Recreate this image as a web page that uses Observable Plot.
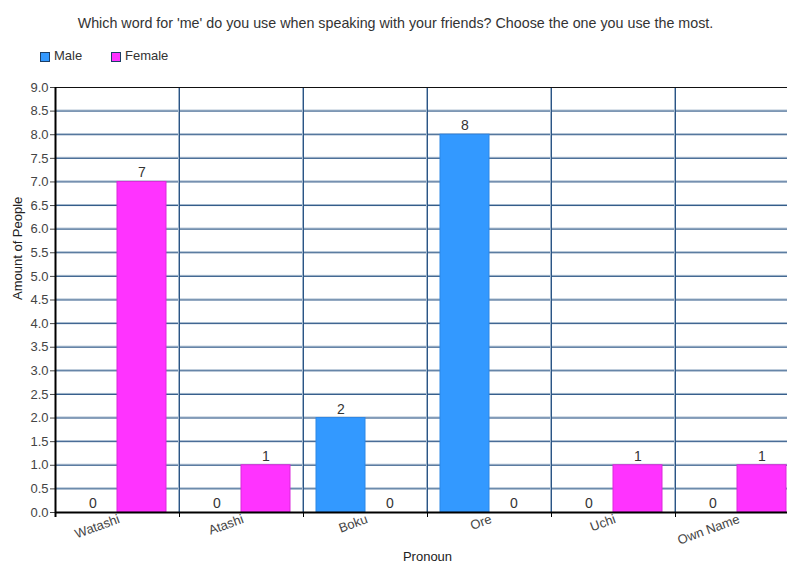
<!DOCTYPE html>
<html>
<head>
<meta charset="utf-8">
<script src="https://cdn.jsdelivr.net/npm/d3@7"></script>
<script src="https://cdn.jsdelivr.net/npm/@observablehq/plot@0.6"></script>
<style>
  html, body { margin: 0; padding: 0; background: #fff; }
  #wrap { position: relative; width: 787px; height: 562px; overflow: hidden; font-family: "Liberation Sans", Arial, sans-serif; color: #444; }
  #title { position: absolute; top: 14px; left: 2px; width: 787px; text-align: center; font-size: 14.3px; line-height: 18px; color: #333; white-space: nowrap; }
  .sw { position: absolute; top: 52px; width: 8px; height: 8px; border: 1px solid #1d3f66; }
  .lt { position: absolute; top: 48px; font-size: 13px; line-height: 16px; color: #333; white-space: nowrap; }
  #chart { position: absolute; top: 70px; left: 0; }
</style>
</head>
<body>
<div id="wrap">
  <div id="title"></div>
  <div id="chart"></div>
</div>
<script>
const titleText = "Which word for 'me' do you use when speaking with your friends? Choose the one you use the most.";
const categories = ["Watashi", "Atashi", "Boku", "Ore", "Uchi", "Own Name"];
const seriesNames = ["Male", "Female"];
const maleValues = [0, 0, 2, 8, 0, 0];
const femaleValues = [7, 1, 0, 0, 1, 1];
const yTicks = [0, 0.5, 1, 1.5, 2, 2.5, 3, 3.5, 4, 4.5, 5, 5.5, 6, 6.5, 7, 7.5, 8, 8.5, 9];
const yLabel = "Amount of People";
const xLabel = "Pronoun";
const colors = ["#3399ff", "#ff33ff"];
const strokes = ["#2d87e6", "#d92ad9"];
const legendX = [40, 111];

document.getElementById("title").textContent = titleText;
const wrap = document.getElementById("wrap");
seriesNames.forEach((n, i) => {
  const sw = document.createElement("div");
  sw.className = "sw";
  sw.style.left = legendX[i] + "px";
  sw.style.background = colors[i];
  wrap.appendChild(sw);
  const t = document.createElement("div");
  t.className = "lt";
  t.style.left = (legendX[i] + 14) + "px";
  t.textContent = n;
  wrap.appendChild(t);
});

const male = categories.map((c, i) => ({category: c, value: maleValues[i]}));
const female = categories.map((c, i) => ({category: c, value: femaleValues[i]}));

const left = 55, right = 799;
const half = (right - left) / categories.length / 2;
const gridTicks = yTicks.filter(d => d > 0 && d < 9);

const chart = Plot.plot({
  width: 787,
  height: 492,
  marginLeft: 55,
  marginRight: 0,
  marginTop: 17,
  marginBottom: 50,
  style: {fontFamily: "Liberation Sans, Arial, sans-serif", fontSize: "13px", color: "#444", background: "#fff", overflow: "visible"},
  x: {type: "band", domain: categories, range: [left, right], padding: 0, axis: null},
  y: {domain: [0, 9], ticks: yTicks, tickFormat: d => d.toFixed(1), tickSize: 5, tickPadding: 2, label: null},
  marks: [
    Plot.ruleY(gridTicks, {stroke: "#9fb4ca", dy: -1}),
    Plot.ruleY(gridTicks, {stroke: "#2b5585"}),
    Plot.ruleX(categories.slice(1), {x: d => d, y1: 0, y2: 9, dx: -half - 1, stroke: "#9fb4ca"}),
    Plot.ruleX(categories.slice(1), {x: d => d, y1: 0, y2: 9, dx: -half, stroke: "#2b5585"}),
    Plot.barY(male, {x: "category", y: "value", fill: colors[0], stroke: strokes[0], insetLeft: 13, insetRight: 62}),
    Plot.barY(female, {x: "category", y: "value", fill: colors[1], stroke: strokes[1], insetLeft: 62, insetRight: 13}),
    Plot.text(male, {x: "category", y: "value", text: d => String(d.value), dx: -24.5, dy: -9, fontSize: 14, fill: "#333"}),
    Plot.text(female, {x: "category", y: "value", text: d => String(d.value), dx: 24.5, dy: -9, fontSize: 14, fill: "#333"}),
    Plot.ruleY([9], {stroke: "#111", strokeWidth: 1.2}),
    Plot.ruleY([0], {stroke: "#000", strokeWidth: 2}),
    Plot.ruleX(categories.slice(0, 1), {x: d => d, y1: 0, y2: 9, dx: -half, stroke: "#000", strokeWidth: 2, insetTop: 5}),
    Plot.ruleX(categories, {x: d => d, y1: 0, y2: 0, dx: -half, stroke: "#000", insetTop: 5}),
    Plot.text(categories, {x: d => d, frameAnchor: "bottom", text: d => d, rotate: -20, textAnchor: "end", dx: 3, dy: 10, fill: "#444"}),
    Plot.text([yLabel], {frameAnchor: "left", text: d => d, rotate: -90, dx: -38, fill: "#222"}),
    Plot.text([xLabel], {frameAnchor: "bottom", text: d => d, dx: 6, dy: 48, fill: "#222"})
  ]
});
document.getElementById("chart").appendChild(chart);
</script>
</body>
</html>
